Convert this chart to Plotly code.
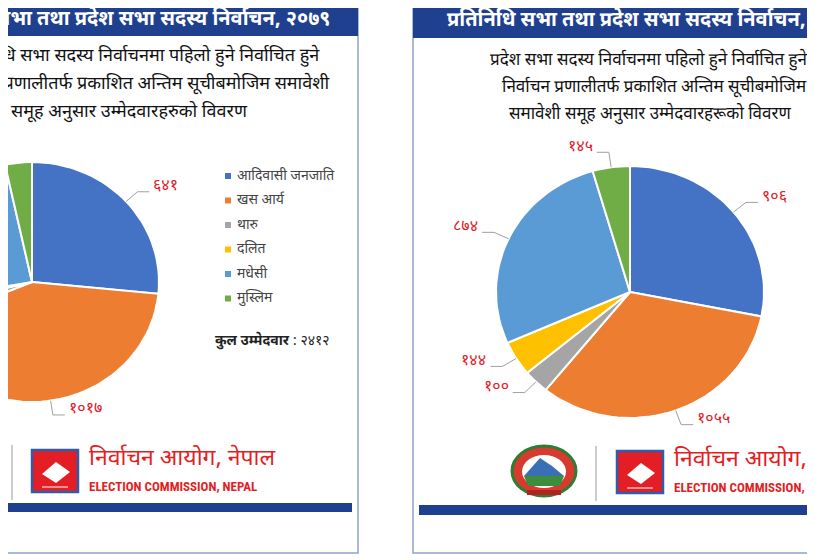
import numpy as np
import plotly.graph_objects as go

categories = ["आदिवासी जनजाति", "खस आर्य", "थारु", "दलित", "मधेसी", "मुस्लिम"]
colors = ["#4472C4", "#ED7D31", "#A5A5A5", "#FFC000", "#5B9BD5", "#70AD47"]
left_values = [641, 1017, 60, 25, 587, 82]
left_labels = ["६४१", "१०१७", "६०", "२५", "५८७", "८२"]
right_values = [906, 1055, 100, 144, 874, 145]
right_labels = ["९०६", "१०५५", "१००", "१४४", "८७४", "१४५"]
left_total = "कुल उम्मेदवार : २४१२"
right_total = "कुल उम्मेदवार : ३२२४"

NAVY = "#1F3F8F"
RED = "#E31E24"
DEV = "Noto Sans Devanagari, Noto Sans, sans-serif"

fig = go.Figure()
shapes = []
ann = []

def panel(x0, x1, hy1, by0, by1):
    shapes.append(dict(type="rect", x0=x0, x1=x1, y0=2, y1=553, line=dict(color="#8FA3CC", width=1.5), fillcolor="white", layer="below"))
    shapes.append(dict(type="rect", x0=x0, x1=x1, y0=2, y1=hy1, line=dict(width=0), fillcolor=NAVY, layer="below"))
    shapes.append(dict(type="rect", x0=x0 + 6, x1=x1 - 6, y0=by0, y1=by1, line=dict(width=0), fillcolor=NAVY, layer="below"))

panel(-10, 358, 36, 503, 512)
panel(413, 840, 38, 505, 515)

def pie(values, labels, cx, cy, rx, ry, show_small):
    total = sum(values)
    start = 0.0
    for i, v in enumerate(values):
        a0 = start
        a1 = start + v / total * 2 * np.pi
        t = np.linspace(a0, a1, max(4, int(120 * v / total) + 4))
        xs = np.concatenate([[cx], cx + rx * np.sin(t), [cx]])
        ys = np.concatenate([[cy], cy - ry * np.cos(t), [cy]])
        fig.add_trace(go.Scatter(x=xs, y=ys, fill="toself", fillcolor=colors[i], mode="lines",
                                 line=dict(color="white", width=2), hoverinfo="skip", showlegend=False))
        mid = (a0 + a1) / 2
        if show_small or v / total > 0.05:
            px, py = cx + rx * np.sin(mid), cy - ry * np.cos(mid)
            ex, ey = cx + rx * 1.12 * np.sin(mid), cy - ry * 1.12 * np.cos(mid)
            side = 1 if np.sin(mid) >= 0 else -1
            hx = ex + side * 12
            fig.add_trace(go.Scatter(x=[px, ex, hx], y=[py, ey, ey], mode="lines",
                                     line=dict(color="#A0A0A0", width=1), hoverinfo="skip", showlegend=False))
            ann.append(dict(x=hx + side * 2, y=ey - 5, text=labels[i], showarrow=False,
                            xanchor="left" if side > 0 else "right", yanchor="middle",
                            font=dict(family=DEV, size=16, color="#E0202A")))
        start = a1

pie(left_values, left_labels, 32, 282, 127, 120, False)
pie(right_values, right_labels, 630, 292, 134, 126, True)

ann.append(dict(x=333, y=19, text="<b>प्रतिनिधि सभा तथा प्रदेश सभा सदस्य निर्वाचन, २०७९</b>", showarrow=False,
                xanchor="right", yanchor="middle", font=dict(family=DEV, size=20, color="white")))
ann.append(dict(x=445, y=20, text="<b>प्रतिनिधि सभा तथा प्रदेश सभा सदस्य निर्वाचन, २०७९</b>", showarrow=False,
                xanchor="left", yanchor="middle", font=dict(family=DEV, size=20, color="white")))

left_sub = ["प्रतिनिधि सभा सदस्य निर्वाचनमा पहिलो हुने निर्वाचित हुने",
            "निर्वाचन प्रणालीतर्फ प्रकाशित अन्तिम सूचीबमोजिम समावेशी",
            "समूह अनुसार उम्मेदवारहरुको विवरण"]
left_ends = [322, 332, 250]
for i, (s, e) in enumerate(zip(left_sub, left_ends)):
    ann.append(dict(x=e, y=56 + i * 28, text=s, showarrow=False, xanchor="right", yanchor="middle",
                    font=dict(family=DEV, size=18, color="#111")))
right_sub = ["प्रदेश सभा सदस्य निर्वाचनमा पहिलो हुने निर्वाचित हुने",
             "निर्वाचन प्रणालीतर्फ प्रकाशित अन्तिम सूचीबमोजिम",
             "समावेशी समूह अनुसार उम्मेदवारहरूको विवरण"]
right_starts = [488, 500, 507]
for i, (s, st) in enumerate(zip(right_sub, right_starts)):
    ann.append(dict(x=st, y=60 + i * 27, text=s, showarrow=False, xanchor="left", yanchor="middle",
                    font=dict(family=DEV, size=17, color="#111")))

for i, c in enumerate(categories):
    y = 176 + i * 24.5
    shapes.append(dict(type="rect", x0=225, x1=231, y0=y - 3, y1=y + 3, fillcolor=colors[i], line=dict(width=0)))
    ann.append(dict(x=235, y=y, text=c, showarrow=False, xanchor="left", yanchor="middle",
                    font=dict(family=DEV, size=14, color="#444")))
ann.append(dict(x=213, y=341, text="<b>" + left_total.split(" :")[0] + "</b> :" + left_total.split(":")[1], showarrow=False,
                xanchor="left", yanchor="middle", font=dict(family=DEV, size=14, color="#222")))
ann.append(dict(x=810, y=378, text="<b>" + right_total.split(" :")[0] + "</b>", showarrow=False,
                xanchor="left", yanchor="middle", font=dict(family=DEV, size=14, color="#222")))

def logo(x0, y0, dx):
    shapes.append(dict(type="line", x0=dx, x1=dx, y0=y0 - 5, y1=y0 + 50, line=dict(color="#BBBBBB", width=1.5)))
    shapes.append(dict(type="rect", x0=x0, x1=x0 + 46, y0=y0, y1=y0 + 42, fillcolor=RED, line=dict(color="#2F5DAA", width=2.5)))
    shapes.append(dict(type="path", path=f"M {x0+10} {y0+24} L {x0+24} {y0+12} L {x0+38} {y0+22} L {x0+24} {y0+33} Z",
                       fillcolor="white", line=dict(width=0)))
    shapes.append(dict(type="line", x0=x0 + 10, x1=x0 + 36, y0=y0 + 37, y1=y0 + 37, line=dict(color="white", width=1)))
    ann.append(dict(x=x0 + 55, y=y0 + 9, text="निर्वाचन आयोग, नेपाल", showarrow=False, xanchor="left", yanchor="middle",
                    font=dict(family=DEV, size=23, color=RED)))
    ann.append(dict(x=x0 + 55, y=y0 + 36, text="<b>ELECTION COMMISSION, NEPAL</b>", showarrow=False, xanchor="left",
                    yanchor="middle", font=dict(family="Roboto Condensed, Liberation Sans Narrow, sans-serif", size=13, color=RED)))

logo(32, 450, 12)
logo(617, 451, 596)

shapes.append(dict(type="circle", x0=512, x1=576, y0=446, y1=496, fillcolor="#D73A2F", line=dict(color="#2E7D32", width=3)))
shapes.append(dict(type="circle", x0=522, x1=566, y0=455, y1=488, fillcolor="#FFFFFF", line=dict(width=0)))
shapes.append(dict(type="path", path="M 524 476 L 540 458 L 552 466 L 564 476 Z", fillcolor="#3A6FB5", line=dict(width=0)))
shapes.append(dict(type="path", path="M 524 476 L 564 476 L 560 486 L 528 486 Z", fillcolor="#3C8D3C", line=dict(width=0)))
shapes.append(dict(type="rect", x0=527, x1=561, y0=490, y1=495, fillcolor="#B22222", line=dict(width=0)))

OFF = 8
fig.update_layout(width=815, height=560, margin=dict(l=0, r=0, t=0, b=0),
                  paper_bgcolor="white", plot_bgcolor="white",
                  xaxis=dict(range=[OFF, 815 + OFF], visible=False, fixedrange=True),
                  yaxis=dict(range=[560 + OFF, OFF], visible=False, fixedrange=True),
                  shapes=shapes, annotations=ann, showlegend=False)
fig.write_html("out.html")
